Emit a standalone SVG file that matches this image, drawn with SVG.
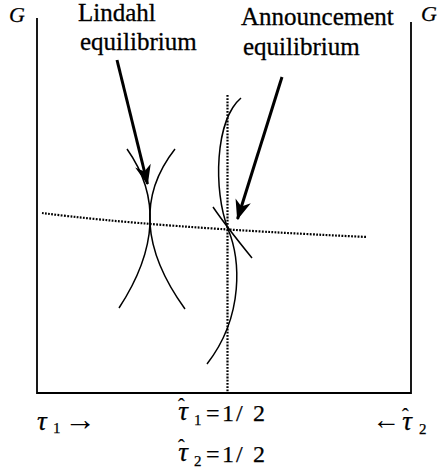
<svg xmlns="http://www.w3.org/2000/svg" width="438" height="475" viewBox="0 0 438 475">
<style>
.axis{fill:none;stroke:#000;stroke-width:1.8}
.curve{fill:none;stroke:#000;stroke-width:1.5}
.dot{fill:none;stroke:#000;stroke-width:2.2;stroke-dasharray:1.8 1.4}
.arrow{fill:none;stroke:#000;stroke-width:3}
</style>
<defs>
<marker id="head" markerUnits="userSpaceOnUse" markerWidth="24" markerHeight="20" viewBox="-20 -10 22 20" refX="0" refY="0" orient="auto">
<path d="M1,0 L-19,-8 L-13,0 L-19,8 Z" fill="#000"/>
</marker>
</defs>
<rect width="438" height="475" fill="#fff"/>
<g id="axes">
<path class="axis" d="M37,18 V393 H411 V22"/>
</g>
<g id="lindahl-curves">
<path class="curve" d="M127,149 Q177,219.5 119,308"/>
<path class="curve" d="M175,149 Q120,219 185,309"/>
</g>
<g id="announcement-curves">
<path class="curve" d="M241,98 C215,120 213,190 228,229 C240,258 245,315 207,364"/>
<path class="curve" d="M213,207 Q226,226 252,258"/>
</g>
<g id="dotted-lines">
<path class="dot" d="M42,213 Q150,227 367,237"/>
<path class="dot" d="M227.5,95 V392"/>
</g>
<g id="connectors">
<path class="arrow" d="M117,60 L147.5,184" marker-end="url(#head)"/>
<path class="arrow" d="M282,77 L237.5,219" marker-end="url(#head)"/>
</g>
<g id="label-lindahl" font-family="Liberation Serif, serif" font-size="25" stroke="#000" stroke-width="0.3">
<text x="78" y="21">Lindahl</text>
<text x="80" y="50">equilibrium</text>
</g>
<g id="label-announcement" font-family="Liberation Serif, serif" font-size="25" stroke="#000" stroke-width="0.3">
<text x="241" y="25">Announcement</text>
<text x="243" y="55">equilibrium</text>
</g>
<g id="axis-labels" font-family="Liberation Serif, serif" stroke="#000" stroke-width="0.25">
<text font-style="italic" x="9" y="22" font-size="22">G</text>
<text font-style="italic" x="421" y="21" font-size="22">G</text>
<text font-style="italic" x="37" y="430" font-size="27">τ</text>
<text x="53" y="433" font-size="15">1</text>
<text x="64" y="430" font-size="32" stroke-width="0">→</text>
<text font-style="italic" x="178" y="420" font-size="27">τ<tspan dx="-10" dy="-7" font-size="20" font-style="normal">ˆ</tspan></text>
<text x="194" y="425" font-size="15">1</text>
<text x="206" y="421" font-size="24">=</text>
<text x="222" y="421" font-size="24">1</text>
<text x="236" y="421" font-size="24">/</text>
<text x="253" y="421" font-size="24">2</text>
<text font-style="italic" x="178" y="461" font-size="27">τ<tspan dx="-10" dy="-7" font-size="20" font-style="normal">ˆ</tspan></text>
<text x="194" y="466" font-size="15">2</text>
<text x="206" y="462" font-size="24">=</text>
<text x="222" y="462" font-size="24">1</text>
<text x="236" y="462" font-size="24">/</text>
<text x="253" y="462" font-size="24">2</text>
<text x="372" y="429" font-size="28" stroke-width="0">←</text>
<text font-style="italic" x="402" y="430" font-size="27">τ<tspan dx="-10" dy="-7" font-size="20" font-style="normal">ˆ</tspan></text>
<text x="419" y="434" font-size="15">2</text>
</g>
</svg>
